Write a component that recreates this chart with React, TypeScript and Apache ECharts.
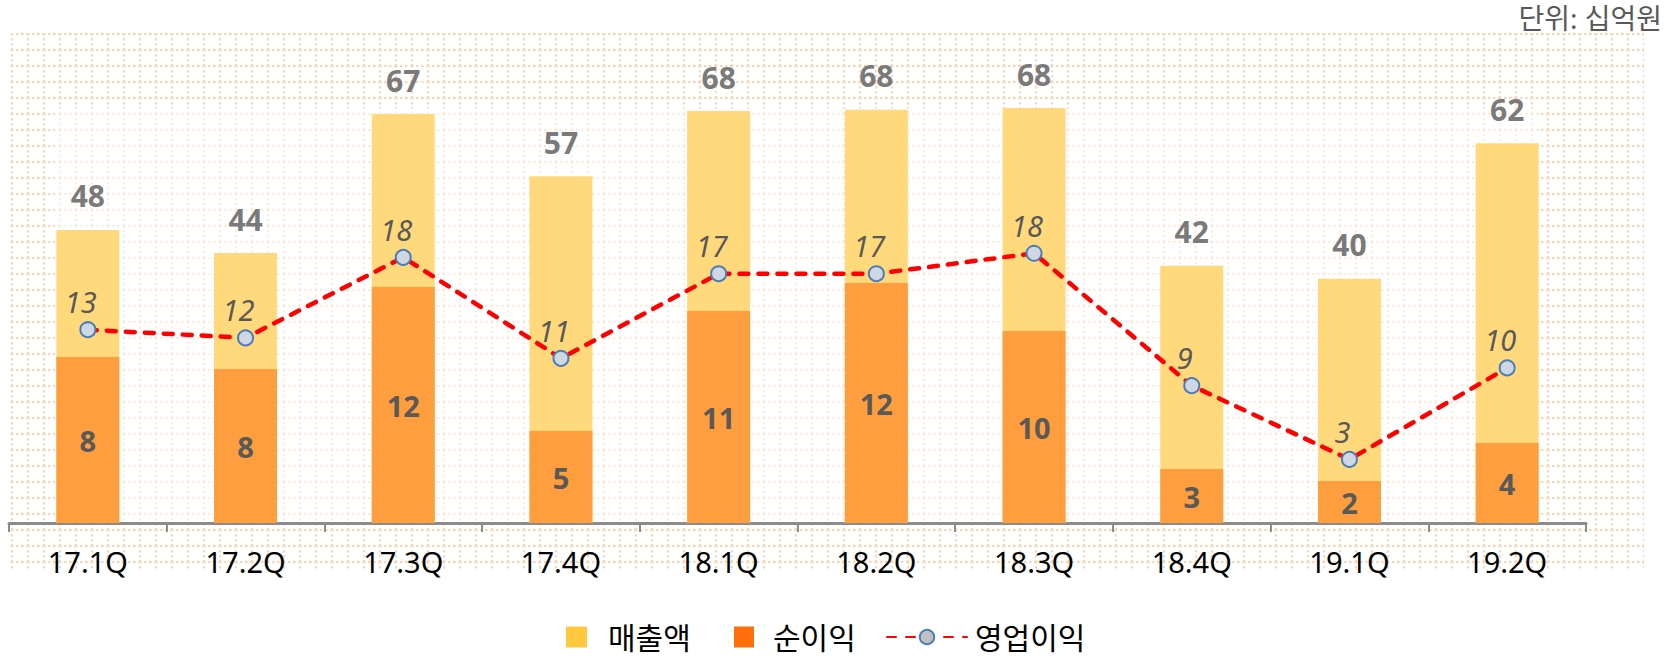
import React, { useEffect, useRef } from "react";
import * as echarts from "echarts";

const categories = ["17.1Q", "17.2Q", "17.3Q", "17.4Q", "18.1Q", "18.2Q", "18.3Q", "18.4Q", "19.1Q", "19.2Q"];
const revenue = [48.1, 44.3, 67.1, 56.9, 67.6, 67.8, 68.1, 42.2, 40.1, 62.3];
const netIncome = [8.3, 7.7, 11.8, 4.6, 10.6, 12.0, 9.6, 2.7, 2.1, 4.0];
const opIncome = [12.8, 12.2, 18.1, 10.7, 16.9, 16.9, 18.4, 8.7, 3.3, 10.0];
const seriesNames = ["매출액", "순이익", "영업이익"];
const unitText = "단위: 십억원";

const FONT = "'Noto Sans', 'Noto Sans CJK KR', sans-serif";

const tileSvg =
  "<svg xmlns='http://www.w3.org/2000/svg' width='16' height='16'>" +
  "<path d='M0 1H16M1 0V16' stroke='#f9d6b8' stroke-width='1.8' stroke-dasharray='2.5 2.5' fill='none'/></svg>";
const tileUrl = `url("data:image/svg+xml,${encodeURIComponent(tileSvg)}")`;

const round = (p: any) => String(Math.round(p.value));

const legendText = (pad: number) => ({
  fontSize: 30,
  lineHeight: 30,
  color: "#000",
  fontFamily: FONT,
  padding: [0, 0, 0, pad],
});

export default function App() {
  const ref = useRef<HTMLDivElement>(null);

  useEffect(() => {
    if (!ref.current) return;
    const chart = echarts.init(ref.current, null, { renderer: "svg" });
    chart.setOption({
      animation: false,
      textStyle: { fontFamily: FONT },
      title: {
        text: unitText,
        right: 12,
        top: 4,
        padding: 0,
        textStyle: { fontSize: 28, fontWeight: "normal", color: "#595959", fontFamily: FONT },
      },
      grid: { left: 9, right: 88, top: 108, bottom: 133, containLabel: false },
      legend: [
        {
          data: [{ name: seriesNames[0], icon: "rect", itemStyle: { color: "#FFC83D" } }],
          left: 566,
          top: 622,
          padding: 0,
          itemWidth: 21,
          itemHeight: 21,
          textStyle: legendText(16),
        },
        {
          data: [{ name: seriesNames[1], icon: "rect", itemStyle: { color: "#FF700D" } }],
          left: 734,
          top: 622,
          padding: 0,
          itemWidth: 20,
          itemHeight: 21,
          textStyle: legendText(14),
        },
        {
          data: [{ name: seriesNames[2], itemStyle: { color: "#c0c0c0", borderColor: "#4a7ebb", borderWidth: 2 } }],
          left: 886,
          top: 622,
          padding: 0,
          itemWidth: 80,
          itemHeight: 18,
          textStyle: legendText(3),
        },
      ],
      xAxis: {
        type: "category",
        data: categories,
        boundaryGap: true,
        axisLine: { show: true, lineStyle: { color: "#8c8c8c", width: 3 } },
        axisTick: { show: true, length: 9, lineStyle: { color: "#8c8c8c", width: 2 } },
        axisLabel: { fontSize: 29, color: "#000", margin: 24, fontFamily: FONT },
        splitLine: { show: false },
      },
      yAxis: [
        { type: "value", min: 0, max: 68.1, show: false, splitLine: { show: false } },
        { type: "value", min: 0, max: 20.75, show: false, splitLine: { show: false } },
        { type: "value", min: -1.36, max: 29.04, show: false, splitLine: { show: false } },
      ],
      series: [
        {
          name: seriesNames[0],
          type: "bar",
          data: revenue,
          yAxisIndex: 0,
          barWidth: 63,
          barGap: "-100%",
          itemStyle: { color: "#FFD97C" },
          label: {
            show: true,
            position: "top",
            distance: 19,
            formatter: round,
            fontSize: 30,
            fontWeight: "bold",
            color: "#7a7a7a",
            fontFamily: FONT,
          },
          z: 1,
        },
        {
          name: seriesNames[1],
          type: "bar",
          data: netIncome,
          yAxisIndex: 1,
          barWidth: 63,
          barGap: "-100%",
          itemStyle: { color: "#FF9E3E" },
          label: {
            show: true,
            position: "inside",
            formatter: round,
            fontSize: 29,
            fontWeight: "bold",
            color: "#595959",
            fontFamily: FONT,
          },
          z: 2,
        },
        {
          name: seriesNames[2],
          type: "line",
          data: opIncome,
          yAxisIndex: 2,
          symbol: "circle",
          symbolSize: 15,
          lineStyle: { color: "#ff0000", width: 4.5, type: [9, 10], cap: "round" },
          itemStyle: { color: "#cfd7e3", borderColor: "#4a7ebb", borderWidth: 2 },
          label: {
            show: true,
            position: "top",
            distance: 5,
            offset: [-7, 0],
            formatter: round,
            fontSize: 29,
            fontStyle: "italic",
            color: "#595959",
            fontFamily: FONT,
          },
          z: 5,
        },
      ],
    });
    return () => chart.dispose();
  }, []);

  return (
    <div style={{ position: "absolute", left: 0, top: 0, width: 1674, height: 656, background: "#fff" }}>
      <div
        style={{
          position: "absolute",
          left: 11,
          top: 33,
          width: 1633,
          height: 537,
          backgroundImage: tileUrl,
          backgroundRepeat: "repeat",
        }}
      />
      <div
        style={{
          position: "absolute",
          left: 55,
          top: 108,
          width: 1483,
          height: 415,
          background: "rgba(255,255,255,0.55)",
        }}
      />
      <div ref={ref} style={{ position: "absolute", left: 0, top: 0, width: 1674, height: 656 }} />
    </div>
  );
}
